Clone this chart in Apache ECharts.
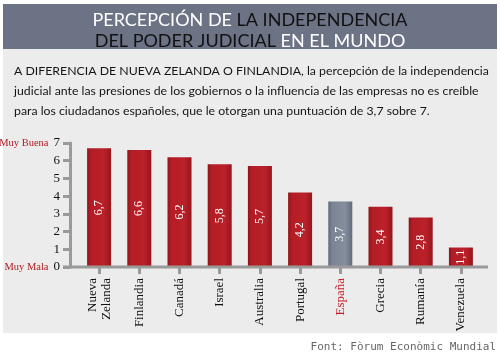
<!DOCTYPE html>
<html><head><meta charset="utf-8">
<script src="https://cdn.jsdelivr.net/npm/echarts@6/dist/echarts.min.js"></script>
<style>html,body{margin:0;padding:0;background:#fff}#c{width:500px;height:359px}</style>
</head><body><div id="c"></div>
<script>
var categories = ['Nueva\nZelanda','Finlandia','Canadá','Israel','Australia','Portugal','España','Grecia','Rumanía','Venezuela'];
var values = [6.7, 6.6, 6.2, 5.8, 5.7, 4.2, 3.7, 3.4, 2.8, 1.1];
var highlight = 'España';
var yTicks = [0,1,2,3,4,5,6,7];
var scaleLabels = {0:'Muy Mala', 7:'Muy Buena'};

var serifF = '"Liberation Serif", serif';
var redGrad = new echarts.graphic.LinearGradient(0,0,1,0,[{offset:0,color:'#8f141a'},{offset:0.15,color:'#b31d25'},{offset:0.7,color:'#bb2129'},{offset:1,color:'#96161c'}]);
var greyGrad = new echarts.graphic.LinearGradient(0,0,1,0,[{offset:0,color:'#5f6878'},{offset:0.15,color:'#7b8494'},{offset:0.7,color:'#858e9d'},{offset:1,color:'#636c7c'}]);

var chart = echarts.init(document.getElementById('c'), null, {renderer:'canvas'});
chart.setOption({
  animation:false,
  backgroundColor:'#ffffff',
  graphic:[
    {type:'rect', z:-10, shape:{x:3,y:4,width:494,height:45}, style:{fill:'#6c7385'}},
    {type:'rect', z:-10, shape:{x:3,y:49,width:494,height:284}, style:{fill:'#ececec'}},
    {type:'text', z:5, left:14, top:61, style:{
      text:'A DIFERENCIA DE NUEVA ZELANDA O FINLANDIA, la percepción de la independencia\njudicial ante las presiones de los gobiernos o la influencia de las empresas no es creíble\npara los ciudadanos españoles, que le otorgan una puntuación de 3,7 sobre 7.',
      font:'12.3px Lato, sans-serif', fill:'#151515', lineHeight:20}},
    {type:'line', z:5, shape:{x1:63,y1:267,x2:488,y2:267}, style:{stroke:'#9a9a9a', lineWidth:3}},
    {type:'text', z:5, right:4, top:342, style:{text:'Font: Fòrum Econòmic Mundial', font:'11px "DejaVu Sans Mono", monospace', fill:'#666'}}
  ],
  title:{
    left:'center', top:5,
    text:'{w|PERCEPCIÓN DE }{b|LA INDEPENDENCIA}\n{b|DEL PODER JUDICIAL}{w| EN EL MUNDO}',
    textStyle:{
      rich:{
        w:{color:'#ffffff', fontSize:18, fontWeight:'normal', fontFamily:'Lato, sans-serif', lineHeight:21},
        b:{color:'#111111', fontSize:18, fontWeight:'normal', fontFamily:'Lato, sans-serif', lineHeight:21}
      }
    }
  },
  grid:{left:79, right:19, top:143, bottom:92, outerBoundsMode:'none', containLabel:false},
  xAxis:{
    type:'category', data:categories,
    axisLine:{show:false},
    axisTick:{show:true, alignWithLabel:true, length:7, lineStyle:{color:'#9a9a9a', width:3}},
    axisLabel:{rotate:90, margin:11, interval:0, fontFamily:serifF, fontSize:13, lineHeight:14, color:'#111',
      formatter:function(v){return v===highlight ? '{h|'+v+'}' : v;},
      rich:{h:{color:'#c41e25', fontFamily:serifF, fontSize:13}}}
  },
  yAxis:{
    type:'value', min:0, max:7, interval:1, offset:9,
    splitLine:{show:false},
    axisLine:{show:true, lineStyle:{color:'#9a9a9a', width:3}},
    axisTick:{show:true, length:7, lineStyle:{color:'#9a9a9a', width:3}},
    axisLabel:{margin:10, fontFamily:serifF, fontSize:13, color:'#111',
      formatter:function(v){return scaleLabels[v] ? '{r|'+scaleLabels[v]+'}{s|}'+v : ''+v;},
      rich:{r:{color:'#b01c24', fontFamily:serifF, fontSize:10.5}, s:{width:5}}}
  },
  series:[{
    type:'bar', barWidth:24,
    data:values.map(function(v,i){
      return {value:v, itemStyle:{color: categories[i]===highlight ? greyGrad : redGrad}};
    }),
    label:{show:true, position:'inside', rotate:90, color:'#fff', fontFamily:serifF, fontSize:12,
      formatter:function(p){return String(p.value).replace('.',',');}}
  }]
});
</script></body></html>
